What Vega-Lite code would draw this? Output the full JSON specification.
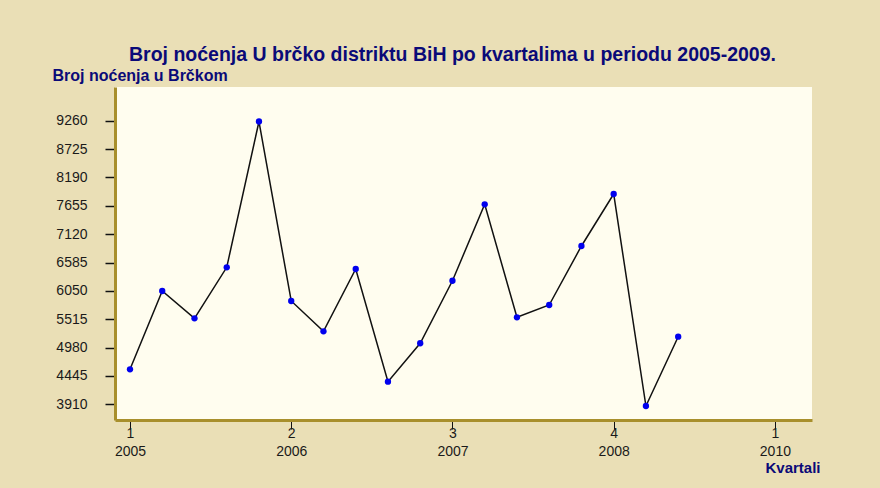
{
  "$schema": "https://vega.github.io/schema/vega-lite/v6.json",
  "width": 697,
  "height": 333,
  "autosize": {"type": "none"},
  "padding": {"left": 115, "top": 87, "right": 68, "bottom": 68},
  "background": "#EADFB6",
  "title": {
    "text": "Broj noćenja U brčko distriktu BiH po kvartalima u periodu 2005-2009.",
    "font": "Liberation Sans",
    "fontSize": 19.5,
    "fontWeight": "bold",
    "color": "#0A0A78",
    "anchor": "middle",
    "frame": "group",
    "dx": -11,
    "offset": 2
  },
  "config": {
    "view": {"fill": "#FFFDEF", "stroke": null},
    "axis": {"grid": false, "labelFont": "Liberation Sans", "labelFontSize": 14, "labelColor": "#1a1a1a", "titleFont": "Liberation Sans"}
  },
  "data": {
    "values": [
      {"i": 0, "v": 4571},
      {"i": 1, "v": 6048},
      {"i": 2, "v": 5533},
      {"i": 3, "v": 6495},
      {"i": 4, "v": 9245},
      {"i": 5, "v": 5860},
      {"i": 6, "v": 5288},
      {"i": 7, "v": 6463},
      {"i": 8, "v": 4338},
      {"i": 9, "v": 5062},
      {"i": 10, "v": 6242},
      {"i": 11, "v": 7683},
      {"i": 12, "v": 5552},
      {"i": 13, "v": 5784},
      {"i": 14, "v": 6897},
      {"i": 15, "v": 7878},
      {"i": 16, "v": 3879},
      {"i": 17, "v": 5186}
    ]
  },
  "encoding": {
    "x": {
      "field": "i",
      "type": "quantitative",
      "scale": {"domain": [-0.465, 21.15], "nice": false, "zero": false},
      "axis": {
        "values": [0, 5, 10, 15, 20],
        "labelExpr": "datum.value == 0 ? ['1','2005'] : datum.value == 5 ? ['2','2006'] : datum.value == 10 ? ['3','2007'] : datum.value == 15 ? ['4','2008'] : ['1','2010']",
        "labelLineHeight": 18,
        "labelPadding": -3,
        "tickColor": "#111111",
        "tickSize": 9,
        "tickWidth": 1,
        "domainColor": "#A88F2C",
        "domainWidth": 3,
        "title": "Kvartali",
        "titleColor": "#0A0A78",
        "titleFontSize": 15,
        "titleFontWeight": "bold",
        "titleAlign": "right",
        "titleBaseline": "alphabetic",
        "titleX": 705,
        "titleY": 52
      }
    },
    "y": {
      "field": "v",
      "type": "quantitative",
      "scale": {"domain": [3615, 9896], "nice": false, "zero": false},
      "axis": {
        "values": [3910, 4445, 4980, 5515, 6050, 6585, 7120, 7655, 8190, 8725, 9260],
        "format": "d",
        "labelPadding": 18,
        "labelBaseline": "middle",
        "tickColor": "#111111",
        "tickSize": 10,
        "tickWidth": 1.5,
        "domainColor": "#A88F2C",
        "domainWidth": 3,
        "title": "Broj noćenja u Brčkom",
        "titleColor": "#0A0A78",
        "titleFontSize": 16,
        "titleFontWeight": "bold",
        "titleAngle": 0,
        "titleAlign": "left",
        "titleBaseline": "alphabetic",
        "titleX": -63,
        "titleY": -7
      }
    }
  },
  "layer": [
    {"mark": {"type": "line", "color": "#111111", "strokeWidth": 1.5}},
    {"mark": {"type": "point", "filled": true, "color": "#0000EE", "opacity": 1, "size": 40}}
  ]
}
